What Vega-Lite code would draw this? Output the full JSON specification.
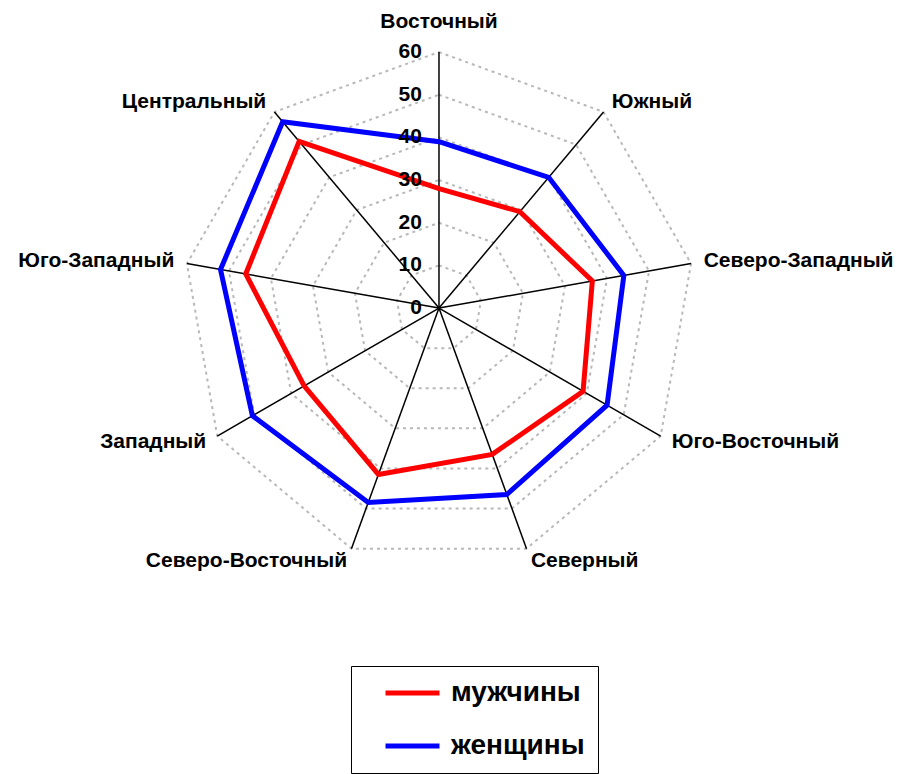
{
  "$schema": "https://vega.github.io/schema/vega-lite/v6.json",
  "width": 901,
  "height": 774,
  "autosize": "none",
  "padding": 0,
  "background": "white",
  "config": {"view": {"stroke": null}, "font": "Liberation Sans"},
  "datasets": {
    "series": [
      {"region": "Восточный", "sex": "мужчины", "value": 28},
      {"region": "Южный", "sex": "мужчины", "value": 29.5},
      {"region": "Северо-Западный", "sex": "мужчины", "value": 36.5},
      {"region": "Юго-Восточный", "sex": "мужчины", "value": 39},
      {"region": "Северный", "sex": "мужчины", "value": 36.5},
      {"region": "Северо-Восточный", "sex": "мужчины", "value": 41.5},
      {"region": "Западный", "sex": "мужчины", "value": 36.5},
      {"region": "Юго-Западный", "sex": "мужчины", "value": 46},
      {"region": "Центральный", "sex": "мужчины", "value": 51},
      {"region": "Восточный", "sex": "женщины", "value": 39},
      {"region": "Южный", "sex": "женщины", "value": 40},
      {"region": "Северо-Западный", "sex": "женщины", "value": 44},
      {"region": "Юго-Восточный", "sex": "женщины", "value": 45.5},
      {"region": "Северный", "sex": "женщины", "value": 46.5},
      {"region": "Северо-Восточный", "sex": "женщины", "value": 48.5},
      {"region": "Западный", "sex": "женщины", "value": 50.5},
      {"region": "Юго-Западный", "sex": "женщины", "value": 52},
      {"region": "Центральный", "sex": "женщины", "value": 57}
    ],
    "regions": [
      {"region": "Восточный", "levels": [10, 20, 30, 40, 50, 60]},
      {"region": "Южный", "levels": [10, 20, 30, 40, 50, 60]},
      {"region": "Северо-Западный", "levels": [10, 20, 30, 40, 50, 60]},
      {"region": "Юго-Восточный", "levels": [10, 20, 30, 40, 50, 60]},
      {"region": "Северный", "levels": [10, 20, 30, 40, 50, 60]},
      {"region": "Северо-Восточный", "levels": [10, 20, 30, 40, 50, 60]},
      {"region": "Западный", "levels": [10, 20, 30, 40, 50, 60]},
      {"region": "Юго-Западный", "levels": [10, 20, 30, 40, 50, 60]},
      {"region": "Центральный", "levels": [10, 20, 30, 40, 50, 60]}
    ],
    "ticks": [
      {"level": 0}, {"level": 10}, {"level": 20}, {"level": 30},
      {"level": 40}, {"level": 50}, {"level": 60}
    ]
  },
  "layer": [
    {
      "data": {"name": "regions"},
      "transform": [
        {"flatten": ["levels"], "as": ["level"]},
        {"calculate": "indexof(['Восточный','Южный','Северо-Западный','Юго-Восточный','Северный','Северо-Восточный','Западный','Юго-Западный','Центральный'], datum.region)", "as": "i"},
        {"calculate": "datum.level * sin(datum.i * 2 * PI / 9)", "as": "px"},
        {"calculate": "datum.level * cos(datum.i * 2 * PI / 9)", "as": "py"}
      ],
      "mark": {"type": "line", "interpolate": "linear-closed", "stroke": "#b8b8b8", "strokeWidth": 2, "strokeDash": [3, 4]},
      "encoding": {
        "x": {"field": "px", "type": "quantitative", "scale": {"domain": [-102.9, 108.3], "nice": false, "zero": false}, "axis": null},
        "y": {"field": "py", "type": "quantitative", "scale": {"domain": [-109.2, 72.2], "nice": false, "zero": false}, "axis": null},
        "detail": {"field": "level", "type": "nominal"},
        "order": {"field": "i", "type": "quantitative"}
      }
    },
    {
      "data": {"name": "regions"},
      "transform": [
        {"calculate": "indexof(['Восточный','Южный','Северо-Западный','Юго-Восточный','Северный','Северо-Восточный','Западный','Юго-Западный','Центральный'], datum.region)", "as": "i"},
        {"calculate": "60 * sin(datum.i * 2 * PI / 9)", "as": "ex"},
        {"calculate": "60 * cos(datum.i * 2 * PI / 9)", "as": "ey"}
      ],
      "mark": {"type": "rule", "color": "black", "strokeWidth": 1.5},
      "encoding": {
        "x": {"field": "ex", "type": "quantitative", "scale": {"domain": [-102.9, 108.3], "nice": false, "zero": false}, "axis": null},
        "y": {"field": "ey", "type": "quantitative", "scale": {"domain": [-109.2, 72.2], "nice": false, "zero": false}, "axis": null},
        "x2": {"datum": 0},
        "y2": {"datum": 0}
      }
    },
    {
      "data": {"name": "series"},
      "transform": [
        {"calculate": "indexof(['Восточный','Южный','Северо-Западный','Юго-Восточный','Северный','Северо-Восточный','Западный','Юго-Западный','Центральный'], datum.region)", "as": "i"},
        {"calculate": "datum.value * sin(datum.i * 2 * PI / 9)", "as": "px"},
        {"calculate": "datum.value * cos(datum.i * 2 * PI / 9)", "as": "py"}
      ],
      "mark": {"type": "line", "interpolate": "linear-closed", "strokeWidth": 5, "strokeJoin": "miter"},
      "encoding": {
        "x": {"field": "px", "type": "quantitative", "scale": {"domain": [-102.9, 108.3], "nice": false, "zero": false}, "axis": null},
        "y": {"field": "py", "type": "quantitative", "scale": {"domain": [-109.2, 72.2], "nice": false, "zero": false}, "axis": null},
        "order": {"field": "i", "type": "quantitative"},
        "color": {
          "field": "sex",
          "type": "nominal",
          "scale": {"domain": ["мужчины", "женщины"], "range": ["#ff0000", "#0000ff"]},
          "legend": {
            "orient": "none",
            "legendX": 351,
            "legendY": 666,
            "title": null,
            "symbolType": "stroke",
            "symbolSize": 2916,
            "symbolStrokeWidth": 5,
            "clipHeight": 28,
            "labelFont": "Liberation Sans",
            "labelFontSize": 28,
            "labelFontWeight": "bold",
            "labelColor": "black",
            "labelOffset": 9,
            "rowPadding": 25,
            "padding": 13,
            "symbolOffset": 19,
            "strokeColor": "black",
            "labelExpr": "datum.label + '  '"
          }
        }
      }
    },
    {
      "data": {"name": "ticks"},
      "mark": {"type": "text", "align": "right", "baseline": "middle", "dx": -17, "fontSize": 21, "fontWeight": "bold", "color": "black"},
      "encoding": {
        "x": {"datum": 0, "type": "quantitative", "scale": {"domain": [-102.9, 108.3], "nice": false, "zero": false}, "axis": null},
        "y": {"field": "level", "type": "quantitative", "scale": {"domain": [-109.2, 72.2], "nice": false, "zero": false}, "axis": null},
        "text": {"field": "level", "type": "quantitative"}
      }
    },
    {
      "data": {"name": "regions"},
      "transform": [
        {"calculate": "indexof(['Восточный','Южный','Северо-Западный','Юго-Восточный','Северный','Северо-Восточный','Западный','Юго-Западный','Центральный'], datum.region)", "as": "i"},
        {"filter": "datum.i >= 1 && datum.i <= 4"},
        {"calculate": "63 * sin(datum.i * 2 * PI / 9)", "as": "lx"},
        {"calculate": "63 * cos(datum.i * 2 * PI / 9)", "as": "ly"}
      ],
      "mark": {"type": "text", "align": "left", "baseline": "middle", "fontSize": 21, "fontWeight": "bold", "color": "black"},
      "encoding": {
        "x": {"field": "lx", "type": "quantitative", "scale": {"domain": [-102.9, 108.3], "nice": false, "zero": false}, "axis": null},
        "y": {"field": "ly", "type": "quantitative", "scale": {"domain": [-109.2, 72.2], "nice": false, "zero": false}, "axis": null},
        "text": {"field": "region", "type": "nominal"}
      }
    },
    {
      "data": {"name": "regions"},
      "transform": [
        {"calculate": "indexof(['Восточный','Южный','Северо-Западный','Юго-Восточный','Северный','Северо-Восточный','Западный','Юго-Западный','Центральный'], datum.region)", "as": "i"},
        {"filter": "datum.i >= 5"},
        {"calculate": "63 * sin(datum.i * 2 * PI / 9)", "as": "lx"},
        {"calculate": "63 * cos(datum.i * 2 * PI / 9)", "as": "ly"}
      ],
      "mark": {"type": "text", "align": "right", "baseline": "middle", "fontSize": 21, "fontWeight": "bold", "color": "black"},
      "encoding": {
        "x": {"field": "lx", "type": "quantitative", "scale": {"domain": [-102.9, 108.3], "nice": false, "zero": false}, "axis": null},
        "y": {"field": "ly", "type": "quantitative", "scale": {"domain": [-109.2, 72.2], "nice": false, "zero": false}, "axis": null},
        "text": {"field": "region", "type": "nominal"}
      }
    },
    {
      "data": {"name": "regions"},
      "transform": [
        {"calculate": "indexof(['Восточный','Южный','Северо-Западный','Юго-Восточный','Северный','Северо-Восточный','Западный','Юго-Западный','Центральный'], datum.region)", "as": "i"},
        {"filter": "datum.i == 0"},
        {"calculate": "0", "as": "lx"},
        {"calculate": "67", "as": "ly"}
      ],
      "mark": {"type": "text", "align": "center", "baseline": "middle", "fontSize": 21, "fontWeight": "bold", "color": "black"},
      "encoding": {
        "x": {"field": "lx", "type": "quantitative", "scale": {"domain": [-102.9, 108.3], "nice": false, "zero": false}, "axis": null},
        "y": {"field": "ly", "type": "quantitative", "scale": {"domain": [-109.2, 72.2], "nice": false, "zero": false}, "axis": null},
        "text": {"field": "region", "type": "nominal"}
      }
    }
  ]
}
